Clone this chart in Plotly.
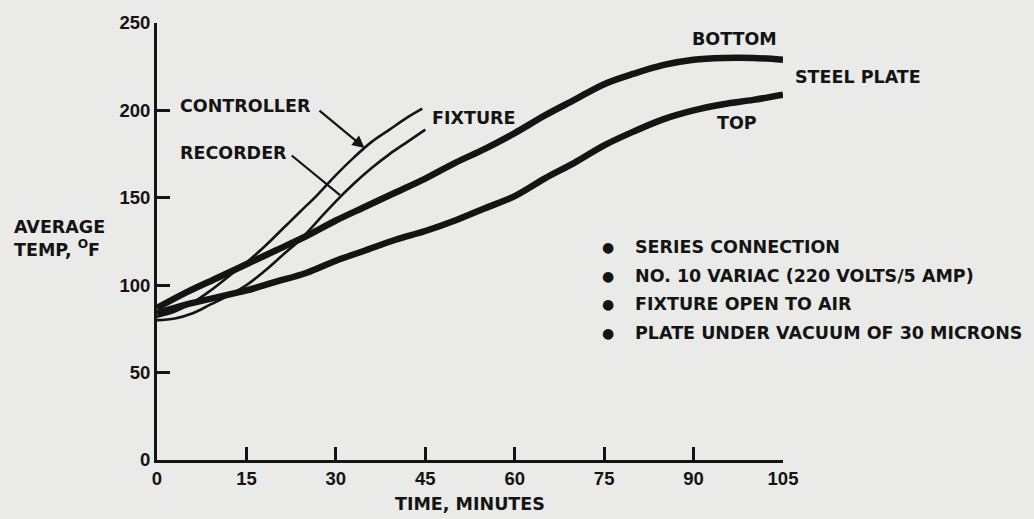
import plotly.graph_objects as go

# Heating run of the steel plate and its fixture (time in minutes, temperature in deg F)
fixture_minutes = [0, 3, 6, 9, 12, 15, 18, 21, 24, 27, 30, 33, 36, 39, 42, 44.5]
controller_temp = [82, 85, 90, 97, 105, 113, 122, 132, 142, 152, 163, 173, 182, 189, 196, 201]

recorder_minutes = [0, 3, 6, 9, 12, 15, 18, 21, 24, 27, 30, 33, 36, 39, 42, 45]
recorder_temp = [80, 81, 84, 89, 94, 100, 108, 117, 126, 137, 148, 158, 167, 175, 182, 189]

plate_minutes = [0, 5, 10, 15, 20, 25, 30, 35, 40, 45, 50, 55, 60, 65, 70, 75,
                 80, 85, 90, 95, 100, 105]
bottom_temp = [87, 96, 104, 112, 120, 128, 137, 145, 153, 161, 170, 178, 187, 197,
               206, 215, 221, 226, 229, 230, 230, 229]
top_temp = [84, 89, 93, 97, 102, 107, 114, 120, 126, 131, 137, 144, 151, 161, 170,
            180, 188, 195, 200, 203.5, 206, 209]

x_ticks = [0, 15, 30, 45, 60, 75, 90, 105]
y_ticks = [0, 50, 100, 150, 200, 250]

test_conditions = [
    "SERIES CONNECTION",
    "NO. 10 VARIAC (220 VOLTS/5 AMP)",
    "FIXTURE OPEN TO AIR",
    "PLATE UNDER VACUUM OF 30 MICRONS",
]

INK = "#141414"
PAPER = "#eaeae8"
LABEL_FONT = dict(family="DejaVu Sans", size=17.5, color=INK, weight="bold")
TICK_FONT = dict(family="Liberation Sans", size=18.5, color=INK, weight="bold")

fig = go.Figure()

fig.add_trace(go.Scatter(x=plate_minutes, y=bottom_temp, mode="lines",
                         line=dict(color=INK, width=6.5, shape="spline")))
fig.add_trace(go.Scatter(x=plate_minutes, y=top_temp, mode="lines",
                         line=dict(color=INK, width=6.5, shape="spline")))
fig.add_trace(go.Scatter(x=fixture_minutes, y=controller_temp, mode="lines",
                         line=dict(color=INK, width=2.6, shape="spline")))
fig.add_trace(go.Scatter(x=recorder_minutes, y=recorder_temp, mode="lines",
                         line=dict(color=INK, width=2.6, shape="spline")))


def label(text, x, y, xanchor="left", font=LABEL_FONT, ref="x"):
    fig.add_annotation(text=text, x=x, y=y,
                       xref=ref if ref == "x" else "paper",
                       yref="y" if ref == "x" else "paper",
                       showarrow=False, xanchor=xanchor, yanchor="middle",
                       font=font, align="left")


label("CONTROLLER", 3.5, 202.6)
label("RECORDER", 3.5, 175.5)
label("FIXTURE", 45.8, 195.8)
label("BOTTOM", 96.9, 241, xanchor="center")
label("TOP", 97.3, 193, xanchor="center")
label("STEEL PLATE", 1.016, 0.876, ref="paper")

# Pointer from CONTROLLER to its curve
fig.add_annotation(x=34.8, y=178.5, ax=27.0, ay=200.6, xref="x", yref="y",
                   axref="x", ayref="y", text="", showarrow=True, arrowhead=2,
                   arrowsize=1.1, arrowwidth=2.2, arrowcolor=INK)
# Leader from RECORDER to its curve
fig.add_shape(type="line", x0=22.6, y0=174.2, x1=30.7, y1=151.5, xref="x", yref="y",
              line=dict(color=INK, width=2.2))

# Test conditions list
rows_y = [121.9, 105.5, 89.2, 72.8]
for text, yy in zip(test_conditions, rows_y):
    label("\u25CF", 75.6, yy, xanchor="center",
          font=dict(family="DejaVu Sans", size=14, color=INK))
    label(text, 79.8, yy)

# Axis titles
label("AVERAGE<br>TEMP, <sup>O</sup>F", -0.2316, 0.508, ref="paper")
label("TIME, MINUTES", 0.5, -0.1016, xanchor="center", ref="paper")

axis_common = dict(showline=True, linewidth=3, linecolor=INK, ticks="inside",
                   ticklen=13, tickwidth=2.5, tickcolor=INK, showgrid=False,
                   zeroline=False, tickfont=TICK_FONT, fixedrange=True)

fig.update_xaxes(range=[0, 105], tickvals=x_ticks, ticktext=[str(v) for v in x_ticks],
                 **axis_common)
fig.update_yaxes(range=[0, 250], tickvals=y_ticks, ticktext=[str(v) for v in y_ticks],
                 **axis_common)

fig.update_layout(
    width=1034, height=519,
    margin=dict(l=157, r=251, t=17, b=59),
    paper_bgcolor=PAPER, plot_bgcolor=PAPER,
    showlegend=False,
)

fig.write_html("out.html", config={"displayModeBar": False})
